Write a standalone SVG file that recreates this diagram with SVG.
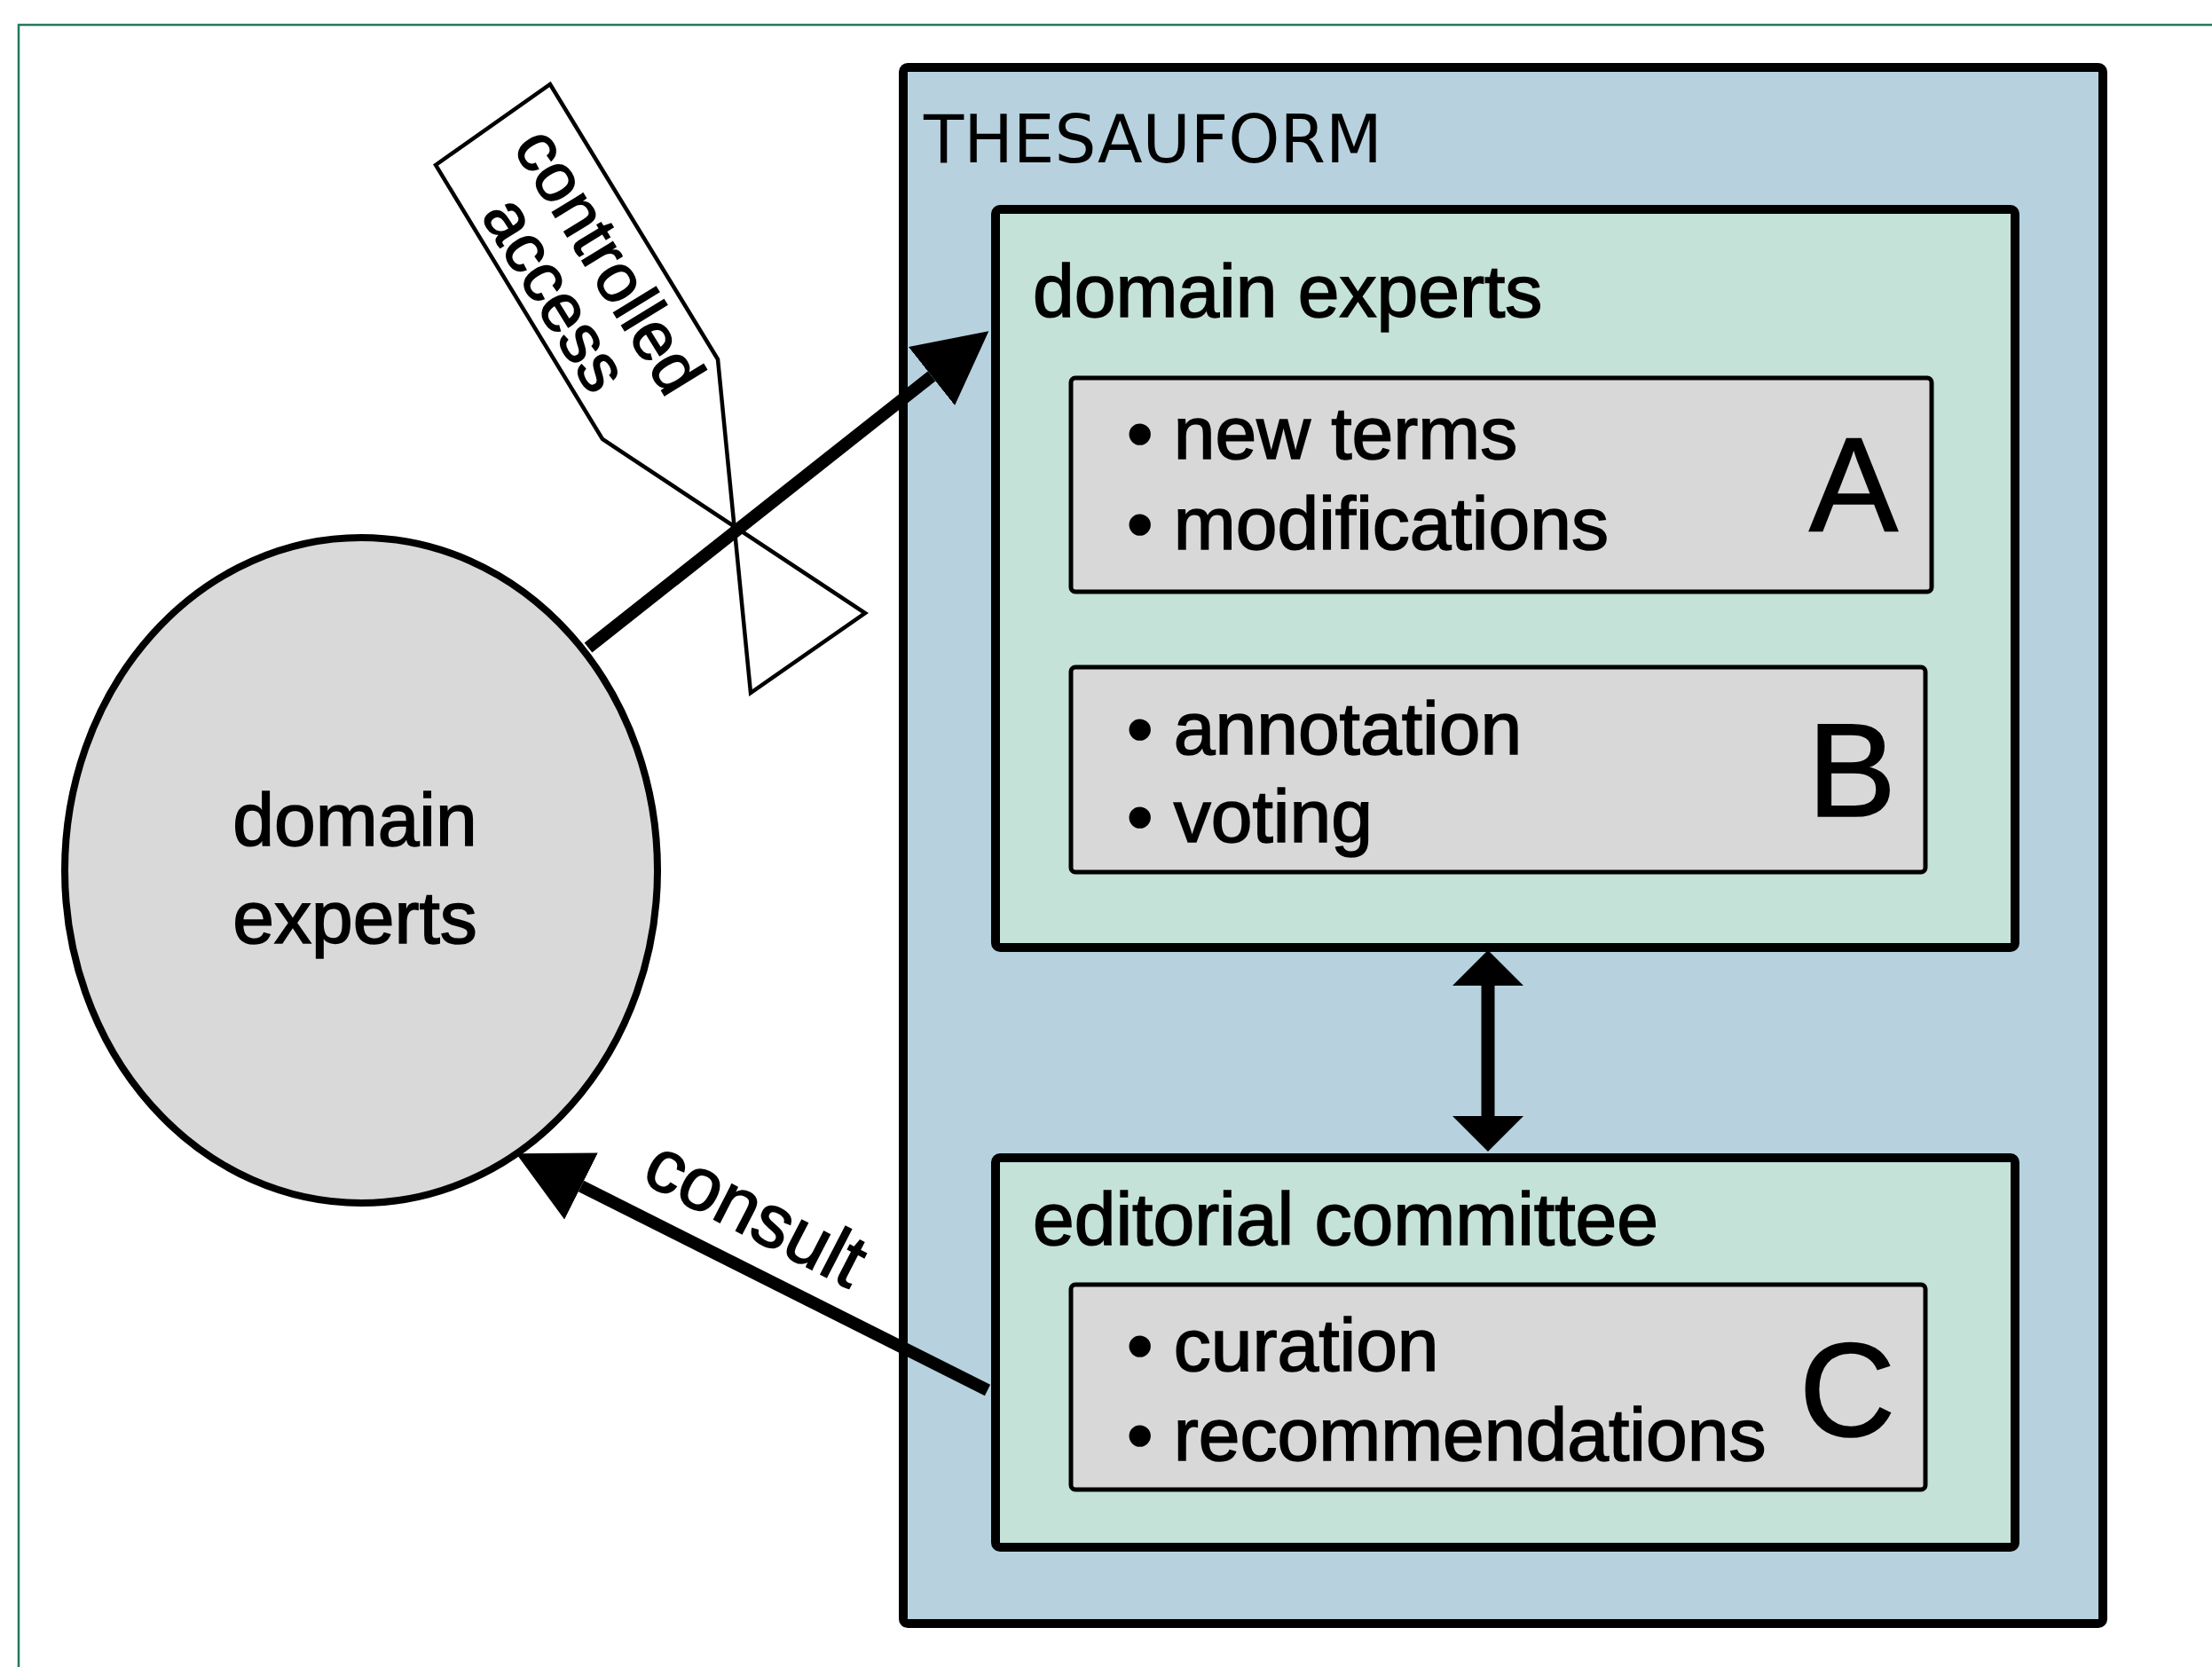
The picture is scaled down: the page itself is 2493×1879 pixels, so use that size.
<svg xmlns="http://www.w3.org/2000/svg" width="2493" height="1879" viewBox="0 0 2493 1879">
<style>
.t{font-family:"Liberation Sans",Arial,Helvetica,sans-serif;fill:#000;stroke:#000;stroke-width:1.6px}
.m{font-size:84px}
.big{font-size:150px;text-anchor:middle}
.box{stroke:#000;stroke-width:10}
.sub{fill:#d8d8d8;stroke:#000;stroke-width:5}
.grn{fill:#c4e2d7}
.shaft{stroke:#000;stroke-width:14;fill:none}
</style>
<defs>
<marker id="ah" viewBox="0 0 82 84" refX="0" refY="42" markerWidth="82" markerHeight="84" markerUnits="userSpaceOnUse" orient="auto"><path d="M0,0 L82,42 L0,84 z" fill="#000"/></marker>
<marker id="ah2" viewBox="0 0 40 80" refX="0" refY="40" markerWidth="40" markerHeight="80" markerUnits="userSpaceOnUse" orient="auto-start-reverse"><path d="M0,0 L40,40 L0,80 z" fill="#000"/></marker>
</defs>
<rect x="0" y="0" width="2493" height="1879" fill="#fff"/>
<rect x="21" y="28" width="2500" height="1900" fill="none" stroke="#23795a" stroke-width="2.5"/>

<g id="thesauform">
<rect class="box" x="1018" y="76" width="1352" height="1754" rx="5" fill="#b7d2de"/>
<text x="1041" y="183" style="font-family:'DejaVu Sans',Verdana,sans-serif;font-size:74px">THESAUFORM</text>
</g>

<g id="domain-experts-box">
<rect class="box grn" x="1122" y="236" width="1149" height="832" rx="5"/>
<text class="t m" x="1164" y="357">domain experts</text>
</g>

<g id="box-a">
<rect class="sub" x="1207" y="426" width="970" height="241" rx="5"/>
<text class="t m" x="1270" y="517">• new terms</text>
<text class="t m" x="1270" y="619">• modifications</text>
<text class="t big" x="2089" y="598">A</text>
</g>

<g id="box-b">
<rect class="sub" x="1207" y="752" width="963" height="231" rx="5"/>
<text class="t m" x="1270" y="850">• annotation</text>
<text class="t m" x="1270" y="949">• voting</text>
<text class="t big" x="2087" y="920">B</text>
</g>

<g id="editorial-box">
<rect class="box grn" x="1122" y="1305" width="1149" height="439" rx="5"/>
<text class="t m" x="1164" y="1403">editorial committee</text>
</g>

<g id="box-c">
<rect class="sub" x="1207" y="1448" width="963" height="231" rx="5"/>
<text class="t m" x="1270" y="1545">• curation</text>
<text class="t m" x="1270" y="1646">• recommendations</text>
<text class="t big" x="2082" y="1619">C</text>
</g>

<g id="domain-experts-ellipse">
<ellipse cx="407" cy="981" rx="334" ry="375" fill="#d9d9d9" stroke="#000" stroke-width="8"/>
<text class="t" x="400" y="953" text-anchor="middle" style="font-size:84px">domain</text>
<text class="t" x="400" y="1063" text-anchor="middle" style="font-size:84px">experts</text>
</g>

<g id="controlled-access">
<polygon points="491,186 620,95 809,405 846,781 975,691 679,495" fill="#fff" stroke="#000" stroke-width="4.5" stroke-linejoin="miter"/>
<g transform="translate(619,94) rotate(58.5)">
<text class="t" x="206" y="73" text-anchor="middle" style="font-size:77px">controlled</text>
<text class="t" x="206" y="144" text-anchor="middle" style="font-size:77px">access</text>
</g>
</g>

<g id="connectors">
<line class="shaft" x1="663" y1="730" x2="1050" y2="424" marker-end="url(#ah)"/>
<line class="shaft" x1="1113" y1="1567" x2="655" y2="1337" marker-end="url(#ah)"/>
<line class="shaft" style="stroke-width:15" x1="1677" y1="1111" x2="1677" y2="1258" marker-start="url(#ah2)" marker-end="url(#ah2)"/>
<text class="t m" transform="translate(839,1392) rotate(27.3)" text-anchor="middle">consult</text>
</g>
</svg>
